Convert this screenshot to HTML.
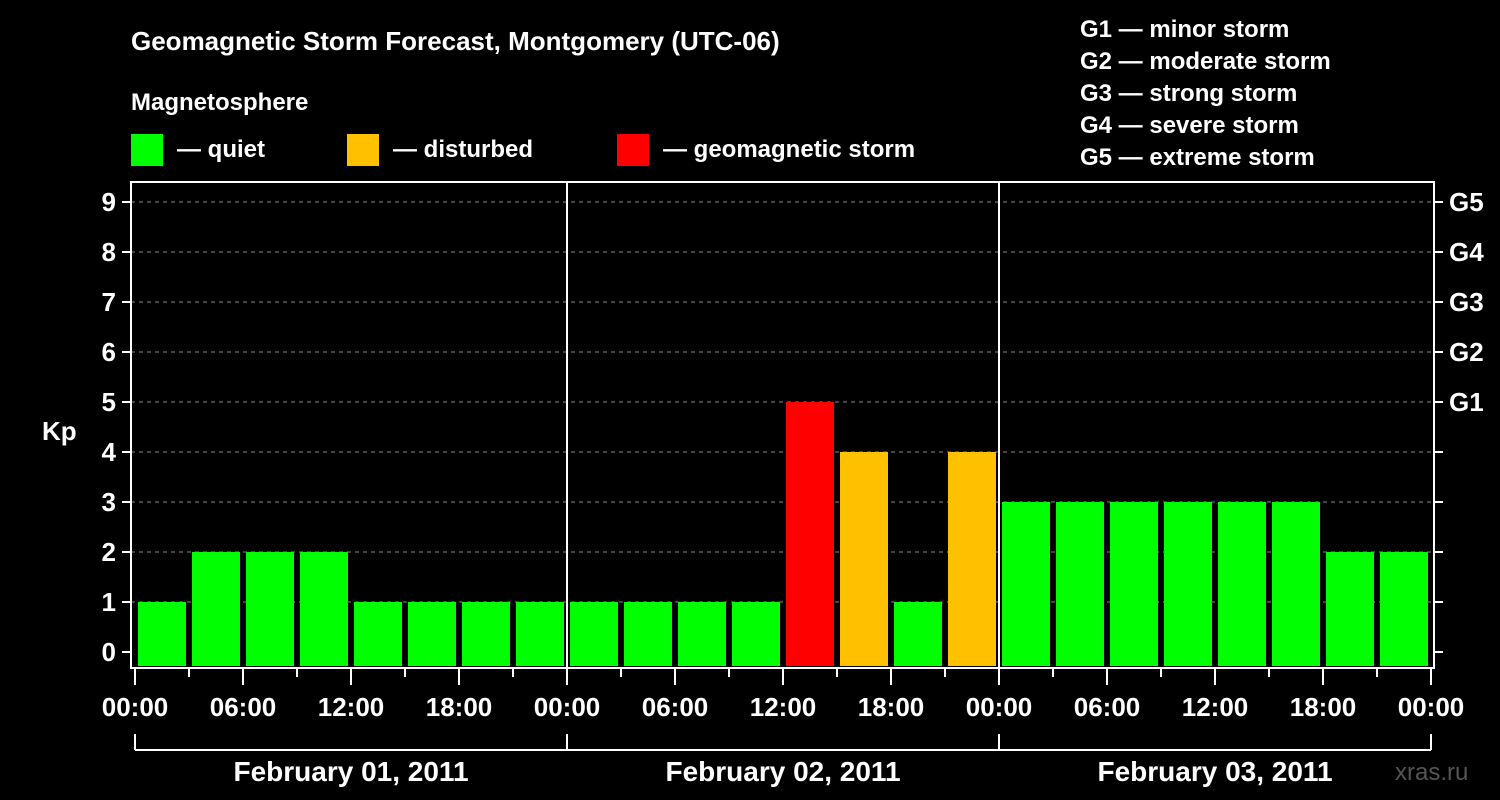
<!DOCTYPE html>
<html><head><meta charset="utf-8"><style>
html,body{margin:0;padding:0;background:#000;}
svg{display:block;font-family:"Liberation Sans",Arial,sans-serif;font-weight:bold;}
</style></head><body>
<svg id="chart" width="1500" height="800" viewBox="0 0 1500 800">
<rect width="1500" height="800" fill="#000"/>
<text x="131" y="50" fill="#fff" font-size="26">Geomagnetic Storm Forecast, Montgomery (UTC-06)</text>
<text x="131" y="110" fill="#fff" font-size="24">Magnetosphere</text>
<g>
<rect x="131" y="134" width="32" height="32" fill="#00ff00"/>
<text x="177" y="157" fill="#fff" font-size="24">— quiet</text>
<rect x="347" y="134" width="32" height="32" fill="#ffc000"/>
<text x="393" y="157" fill="#fff" font-size="24">— disturbed</text>
<rect x="617" y="134" width="32" height="32" fill="#ff0000"/>
<text x="663" y="157" fill="#fff" font-size="24">— geomagnetic storm</text>
</g>
<g fill="#fff" font-size="24">
<text x="1080" y="37">G1 — minor storm</text>
<text x="1080" y="69">G2 — moderate storm</text>
<text x="1080" y="101">G3 — strong storm</text>
<text x="1080" y="133">G4 — severe storm</text>
<text x="1080" y="165">G5 — extreme storm</text>
</g>
<text x="42" y="440" fill="#fff" font-size="26">Kp</text>
<text x="1395" y="780" fill="#555" font-size="24" font-weight="normal">xras.ru</text>
<g id="grid"></g><g id="bars"></g><g id="axes"></g>
</svg>
<script>
const kpValues=[1,2,2,2,1,1,1,1, 1,1,1,1,5,4,1,4, 3,3,3,3,3,3,2,2];
const yTicks=[0,1,2,3,4,5,6,7,8,9];
const gLabels=["G1","G2","G3","G4","G5"];
const hourLabels=["00:00","06:00","12:00","18:00"];
const dayLabels=["February 01, 2011","February 02, 2011","February 03, 2011"];
const NS="http://www.w3.org/2000/svg";
const X0=135,DAYW=432,L=131,R=1434,T=182,B=668;
const y=v=>652-50*v;
const x=i=>X0+i*DAYW/8;
function mk(tag,attrs,parent,text){const e=document.createElementNS(NS,tag);for(const k in attrs)e.setAttribute(k,attrs[k]);if(text!==undefined)e.textContent=text;parent.appendChild(e);return e;}
const grid=document.getElementById('grid'),bars=document.getElementById('bars'),axes=document.getElementById('axes');
function color(v){return v>=5?'#ff0000':v>=4?'#ffc000':'#00ff00';}
kpValues.forEach((v,i)=>{
 const r=mk('rect',{x:x(i)+3,y:y(v),width:48,height:666-y(v),fill:color(v)},bars);
 
 
});
yTicks.forEach(v=>{
 if(v>0){const g=mk('line',{x1:L,x2:R,y1:y(v),y2:y(v),stroke:'#888','stroke-width':1,'stroke-dasharray':'4,4'},grid);
 }
 mk('line',{x1:122,x2:L,y1:y(v),y2:y(v),stroke:'#fff','stroke-width':2},axes);
 mk('line',{x1:R,x2:1443,y1:y(v),y2:y(v),stroke:'#fff','stroke-width':2},axes);
 const t=mk('text',{x:116,y:y(v)+9,fill:'#fff','font-size':26,'text-anchor':'end'},axes,String(v));
 
});
gLabels.forEach((g,i)=>{
 const t=mk('text',{x:1449,y:y(5+i)+9,fill:'#fff','font-size':26},axes,g);
 
});
const fr=mk('rect',{x:L,y:T,width:R-L,height:B-T,fill:'none',stroke:'#fff','stroke-width':2},axes);

for(let d=1;d<3;d++)mk('line',{x1:X0+d*DAYW,x2:X0+d*DAYW,y1:T,y2:B,stroke:'#fff','stroke-width':2},axes);
for(let i=0;i<=24;i++){
 const major=i%2===0;
 mk('line',{x1:x(i),x2:x(i),y1:B,y2:major?685:677,stroke:'#fff','stroke-width':2},axes);
 if(major){const t=mk('text',{x:x(i),y:716,fill:'#fff','font-size':26,'text-anchor':'middle'},axes,hourLabels[(i/2)%4]);
 }
}
mk('line',{x1:X0,x2:X0+3*DAYW,y1:750,y2:750,stroke:'#fff','stroke-width':2},axes);
for(let d=0;d<=3;d++)mk('line',{x1:X0+d*DAYW,x2:X0+d*DAYW,y1:734,y2:750,stroke:'#fff','stroke-width':2},axes);
dayLabels.forEach((s,d)=>{
 const t=mk('text',{x:X0+d*DAYW+DAYW/2,y:781,fill:'#fff','font-size':28,'text-anchor':'middle'},axes,s);
 
});
</script>
</body></html>
